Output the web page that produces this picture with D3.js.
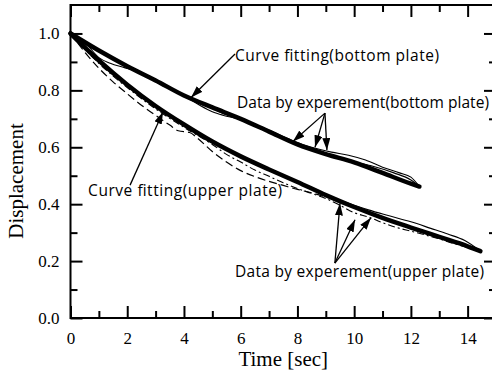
<!DOCTYPE html>
<html>
<head>
<meta charset="utf-8">
<script src="https://cdn.jsdelivr.net/npm/d3@7"></script>
<style>
  html, body { margin: 0; padding: 0; background: #fff; }
  svg { display: block; }
  .ticklab { font-family: "Liberation Serif", "Times New Roman", serif; font-size: 17px; fill: #000; }
  .title { font-family: "Liberation Serif", "Times New Roman", serif; font-size: 21px; fill: #000; }
  .note { font-family: "Open Sans", sans-serif; font-size: 15.5px; fill: #000; }
</style>
</head>
<body>
<svg id="chart" width="492" height="374"></svg>
<script>
// ---- Fitted curves (time in sec, normalised displacement) ----
const fitBottomTime = [0, 1, 2, 3, 4, 5, 6, 7, 8, 9, 10, 11, 12, 12.3];
const fitBottomDisp = [1.0, 0.94, 0.885, 0.835, 0.782, 0.74, 0.70, 0.655, 0.61, 0.576, 0.547, 0.51, 0.472, 0.462];

const fitUpperTime = [0, 1, 2, 3, 4, 5, 6, 7, 8, 9, 10, 11, 12, 13, 14, 14.45];
const fitUpperDisp = [1.0, 0.905, 0.82, 0.745, 0.68, 0.62, 0.568, 0.522, 0.478, 0.432, 0.39, 0.352, 0.318, 0.285, 0.252, 0.235];

// ---- Measured runs, bottom plate ----
const expBottom1Time = [0, 0.6, 1.0, 1.4, 1.9, 2.3, 3.2, 3.9, 4.4, 4.9, 5.3, 5.8, 6.4, 7.0, 7.8, 8.5, 9.2, 9.8, 10.4, 11.0, 11.6, 12.0, 12.3];
const expBottom1Disp = [1.0, 0.958, 0.915, 0.895, 0.88, 0.868, 0.82, 0.785, 0.765, 0.743, 0.722, 0.708, 0.685, 0.66, 0.625, 0.6, 0.583, 0.572, 0.555, 0.53, 0.51, 0.495, 0.462];
const expBottom2Time = [0, 0.8, 1.6, 2.4, 3.2, 4.0, 4.6, 5.0, 5.4, 5.9, 6.5, 7.3, 8.2, 9.0, 9.8, 10.6, 11.4, 12.0, 12.3];
const expBottom2Disp = [1.0, 0.948, 0.905, 0.862, 0.822, 0.782, 0.745, 0.725, 0.712, 0.7, 0.676, 0.64, 0.6, 0.575, 0.553, 0.535, 0.51, 0.485, 0.462];

// ---- Measured runs, upper plate ----
const expUpper1Time = [0, 0.5, 1.0, 1.5, 2.0, 2.5, 3.0, 3.5, 3.8, 4.2, 4.5, 5.0, 5.5, 6.0, 6.5, 7.0, 7.5, 8.0, 8.5, 9.0];
const expUpper1Disp = [1.0, 0.935, 0.878, 0.83, 0.788, 0.748, 0.712, 0.678, 0.658, 0.652, 0.63, 0.585, 0.548, 0.518, 0.497, 0.48, 0.466, 0.452, 0.44, 0.425];
const expUpper2Time = [0, 1, 2, 3, 4, 5, 6, 7, 8, 9, 9.8, 10.5, 11.2, 12.0, 12.7, 13.3, 13.9, 14.45];
const expUpper2Disp = [1.0, 0.905, 0.822, 0.748, 0.68, 0.62, 0.568, 0.522, 0.478, 0.435, 0.403, 0.38, 0.36, 0.338, 0.315, 0.295, 0.272, 0.235];
const expUpper3Time = [0, 0.5, 1, 2, 3, 4, 5, 5.5, 6, 6.5, 7, 7.5, 8, 8.5, 9, 9.5, 10, 10.5, 11, 11.5, 12, 12.5, 13, 13.5, 14, 14.45];
const expUpper3Disp = [1.0, 0.945, 0.895, 0.81, 0.735, 0.67, 0.61, 0.575, 0.548, 0.52, 0.498, 0.475, 0.455, 0.438, 0.42, 0.396, 0.37, 0.355, 0.335, 0.318, 0.305, 0.292, 0.278, 0.262, 0.248, 0.235];

// ---- Axes ----
const xMajorTicks = [0, 2, 4, 6, 8, 10, 12, 14];
const xMinorTicks = [1, 3, 5, 7, 9, 11, 13];
const yMajorTicks = [0.0, 0.2, 0.4, 0.6, 0.8, 1.0];
const yMinorTicks = [0.1, 0.3, 0.5, 0.7, 0.9];
const xTitle = "Time [sec]";
const yTitle = "Displacement";

// ---- Annotations: text, text anchor, arrow tail, arrow heads (data units) ----
const noteTexts = ["Curve fitting(bottom plate)", "Data by experement(bottom plate)", "Curve fitting(upper plate)", "Data by experement(upper plate)"];
const noteAnchors = [[5.8, 0.903], [5.87, 0.738], [0.62, 0.429], [5.8, 0.144]];
const noteTails = [[5.8, 0.928], [8.97, 0.72], [2.1, 0.467], [9.32, 0.193]];
const noteHeads = [
  [[4.25, 0.775]],
  [[7.84, 0.62], [8.62, 0.6], [9.04, 0.59]],
  [[3.26, 0.724]],
  [[9.5, 0.403], [10.03, 0.345], [10.59, 0.352]]
];
// set width of each note, in pixels
const noteWidths = [204, 252, 194, 249];

const svg = d3.select("#chart");
const x = d3.scaleLinear().domain([0, 15]).range([70.5, 496]);
const y = d3.scaleLinear().domain([0, 1.1]).range([318, 5]);

const ink = "#000";

function styleAxis(g) {
  g.select(".domain").remove();
  g.selectAll(".tick line").attr("stroke", ink).attr("stroke-width", 2);
}

// bottom axis
svg.append("g").attr("transform", `translate(0,${y(0)})`)
  .call(d3.axisBottom(x).tickValues(xMajorTicks).tickSizeInner(-12).tickSizeOuter(0).tickPadding(14).tickFormat(d3.format("d")))
  .call(styleAxis)
  .call(g => g.selectAll("text").attr("class", "ticklab").attr("font-size", null).attr("font-family", null));
svg.append("g").attr("transform", `translate(0,${y(0)})`)
  .call(d3.axisBottom(x).tickValues(xMinorTicks).tickSizeInner(-7).tickSizeOuter(0).tickFormat(""))
  .call(styleAxis);

// top axis
svg.append("g").attr("transform", `translate(0,${y(1.1)})`)
  .call(d3.axisTop(x).tickValues(xMajorTicks).tickSizeInner(-12).tickSizeOuter(0).tickFormat(""))
  .call(styleAxis);
svg.append("g").attr("transform", `translate(0,${y(1.1)})`)
  .call(d3.axisTop(x).tickValues(xMinorTicks).tickSizeInner(-7).tickSizeOuter(0).tickFormat(""))
  .call(styleAxis);

// left axis
svg.append("g").attr("transform", `translate(${x(0)},0)`)
  .call(d3.axisLeft(y).tickValues(yMajorTicks).tickSizeInner(-12).tickSizeOuter(0).tickPadding(11).tickFormat(d3.format(".1f")))
  .call(styleAxis)
  .call(g => g.selectAll("text").attr("class", "ticklab").attr("font-size", null).attr("font-family", null));
svg.append("g").attr("transform", `translate(${x(0)},0)`)
  .call(d3.axisLeft(y).tickValues(yMinorTicks).tickSizeInner(-7).tickSizeOuter(0).tickFormat(""))
  .call(styleAxis);

// right axis
svg.append("g").attr("transform", `translate(${x(15)},0)`)
  .call(d3.axisRight(y).tickValues(yMajorTicks).tickSizeInner(-12).tickSizeOuter(0).tickFormat(""))
  .call(styleAxis);
svg.append("g").attr("transform", `translate(${x(15)},0)`)
  .call(d3.axisRight(y).tickValues(yMinorTicks).tickSizeInner(-7).tickSizeOuter(0).tickFormat(""))
  .call(styleAxis);

// frame
svg.append("rect")
  .attr("x", x(0)).attr("y", y(1.1))
  .attr("width", x(15) - x(0)).attr("height", y(0) - y(1.1))
  .attr("fill", "none").attr("stroke", ink).attr("stroke-width", 2);

// axis titles
svg.append("text").attr("class", "title")
  .attr("x", (x(0) + x(15)) / 2).attr("y", 366)
  .attr("text-anchor", "middle").text(xTitle);
svg.append("text").attr("class", "title")
  .attr("transform", "translate(23,181) rotate(-90)")
  .attr("text-anchor", "middle").text(yTitle);

// curves
const line = d3.line().x(d => x(d[0])).y(d => y(d[1])).curve(d3.curveMonotoneX);
const zipSeries = (t, v) => t.map((d, i) => [d, v[i]]);

const runs = [
  { t: expBottom1Time, v: expBottom1Disp, w: 1.1, dash: null },
  { t: expBottom2Time, v: expBottom2Disp, w: 1.1, dash: null },
  { t: expUpper1Time, v: expUpper1Disp, w: 1.2, dash: "8,4" },
  { t: expUpper2Time, v: expUpper2Disp, w: 1.1, dash: null },
  { t: expUpper3Time, v: expUpper3Disp, w: 1.1, dash: "7,3,2,3" }
];
runs.forEach(r => {
  svg.append("path").datum(zipSeries(r.t, r.v))
    .attr("fill", "none").attr("stroke", ink).attr("stroke-width", r.w)
    .attr("stroke-dasharray", r.dash)
    .attr("d", line);
});

[[fitBottomTime, fitBottomDisp], [fitUpperTime, fitUpperDisp]].forEach(([t, v]) => {
  svg.append("path").datum(zipSeries(t, v))
    .attr("fill", "none").attr("stroke", ink).attr("stroke-width", 4.5)
    .attr("stroke-linecap", "round")
    .attr("d", line);
});

// arrowhead marker
svg.append("defs").append("marker")
  .attr("id", "head").attr("markerUnits", "userSpaceOnUse")
  .attr("viewBox", "0 0 12 8").attr("refX", 12).attr("refY", 4)
  .attr("markerWidth", 12).attr("markerHeight", 8).attr("orient", "auto")
  .append("path").attr("d", "M0,0 L12,4 L0,8 Z").attr("fill", ink);

// annotations
noteTexts.forEach((txt, i) => {
  svg.append("text").attr("class", "note")
    .attr("x", x(noteAnchors[i][0])).attr("y", y(noteAnchors[i][1]))
    .attr("textLength", noteWidths[i]).attr("lengthAdjust", "spacing")
    .text(txt);
  noteHeads[i].forEach(h => {
    svg.append("line")
      .attr("x1", x(noteTails[i][0])).attr("y1", y(noteTails[i][1]))
      .attr("x2", x(h[0])).attr("y2", y(h[1]))
      .attr("stroke", ink).attr("stroke-width", 1.3)
      .attr("marker-end", "url(#head)");
  });
});
</script>
</body>
</html>
